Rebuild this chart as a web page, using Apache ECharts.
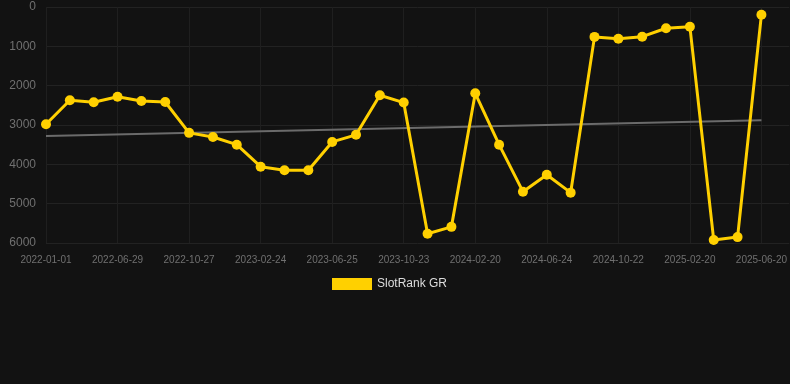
<!DOCTYPE html>
<html>
<head>
<meta charset="utf-8">
<script src="https://cdn.jsdelivr.net/npm/echarts@6/dist/echarts.min.js"></script>
<style>
  html, body { margin: 0; padding: 0; background: #121212; }
  #chart { width: 790px; height: 384px; }
</style>
</head>
<body>
<div id="chart"></div>
<script>
var dates = [
    '2022-01-01', '2022-03-01', '2022-04-30', '2022-06-29', '2022-08-08', '2022-09-17',
    '2022-10-27', '2022-12-06', '2023-01-15', '2023-02-24', '2023-04-05', '2023-05-15',
    '2023-06-25', '2023-08-04', '2023-09-13', '2023-10-23', '2023-12-02', '2024-01-11',
    '2024-02-20', '2024-03-31', '2024-05-14', '2024-06-24', '2024-08-03', '2024-09-12',
    '2024-10-22', '2024-12-01', '2025-01-10', '2025-02-20', '2025-03-31', '2025-05-11',
    '2025-06-20'
];
var rankValues = [
    2980, 2370, 2420, 2280, 2390, 2415,
    3200, 3305, 3500, 4060, 4150, 4150,
    3430, 3250, 2245, 2430, 5765, 5590,
    2195, 3500, 4695, 4265, 4720, 760,
    805, 755, 540, 500, 5925, 5850,
    195
];
var trendEnds = [3280, 2880];
var yTicks = [0, 6000, 1000];

// points are placed by their index along the x axis, labels come from dates
var rankPoints = rankValues.map(function (v, i) { return [i, v]; });
var trendPoints = [[0, trendEnds[0]], [dates.length - 1, trendEnds[1]]];

var dom = document.getElementById('chart');
var chart = echarts.init(dom, null, { renderer: 'canvas' });

var option = {
    backgroundColor: '#121212',
    animation: false,
    grid: {
        left: 46,
        right: 0,
        top: 7,
        height: 236
    },
    legend: {
        top: 273,
        left: 327,
        icon: 'rect',
        itemWidth: 40,
        itemHeight: 12,
        itemGap: 10,
        data: ['SlotRank GR'],
        textStyle: {
            color: '#dddddd',
            fontSize: 12,
            fontFamily: 'Liberation Sans, Arial, sans-serif'
        }
    },
    xAxis: {
        type: 'value',
        min: 0,
        max: 31.17,
        interval: 3,
        axisLine: { show: false },
        axisTick: { show: false },
        axisLabel: {
            color: '#707070',
            fontSize: 10,
            margin: 12,
            showMaxLabel: false,
            formatter: function (v) {
                return Number.isInteger(v) && dates[v] ? dates[v] : '';
            },
            fontFamily: 'Liberation Sans, Arial, sans-serif'
        },
        splitLine: {
            show: true,
            showMaxLine: false,
            lineStyle: { color: '#1f1f1f', width: 1 }
        }
    },
    yAxis: {
        type: 'value',
        inverse: true,
        min: yTicks[0],
        max: yTicks[1],
        interval: yTicks[2],
        axisLine: { show: false },
        axisTick: { show: false },
        axisLabel: {
            color: '#707070',
            fontSize: 12,
            margin: 10,
            formatter: function (v) { return String(v); },
            fontFamily: 'Liberation Sans, Arial, sans-serif'
        },
        splitLine: {
            lineStyle: { color: '#222222', width: 1 }
        }
    },
    series: [
        {
            name: 'Trend',
            type: 'line',
            data: trendPoints,
            symbol: 'none',
            silent: true,
            lineStyle: { color: '#6b6b6b', width: 2 },
            z: 1
        },
        {
            name: 'SlotRank GR',
            type: 'line',
            data: rankPoints,
            symbol: 'circle',
            symbolSize: 10,
            itemStyle: { color: '#FFD000' },
            lineStyle: { color: '#FFD000', width: 3 },
            z: 2
        }
    ]
};

chart.setOption(option);
window.addEventListener('resize', chart.resize);
</script>
</body>
</html>
